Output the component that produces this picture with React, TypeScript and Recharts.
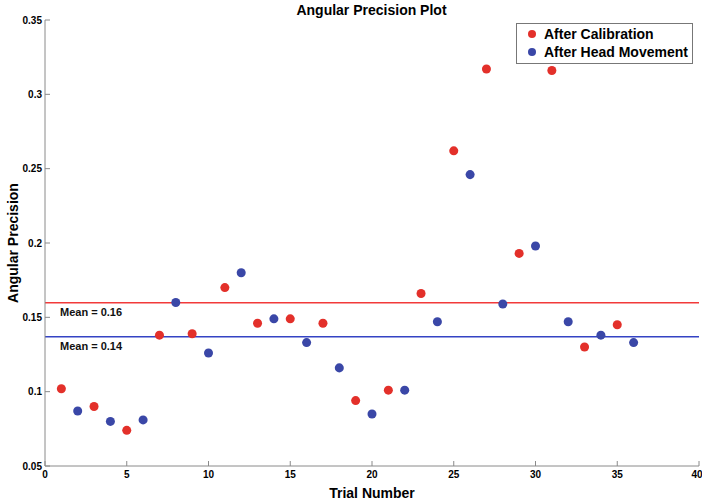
import React from 'react';
import {
  ScatterChart,
  Scatter,
  XAxis,
  YAxis,
  ReferenceLine,
} from 'recharts';

// trial numbers and precision readings
const calibTrials = [1, 3, 5, 7, 9, 11, 13, 15, 17, 19, 21, 23, 25, 27, 29, 31, 33, 35];
const calibValues = [0.102, 0.09, 0.074, 0.138, 0.139, 0.17, 0.146, 0.149, 0.146, 0.094, 0.101, 0.166, 0.262, 0.317, 0.193, 0.316, 0.13, 0.145];

const headTrials = [2, 4, 6, 8, 10, 12, 14, 16, 18, 20, 22, 24, 26, 28, 30, 32, 34, 36];
const headValues = [0.087, 0.08, 0.081, 0.16, 0.126, 0.18, 0.149, 0.133, 0.116, 0.085, 0.101, 0.147, 0.246, 0.159, 0.198, 0.147, 0.138, 0.133];

const xTicks = [0, 5, 10, 15, 20, 25, 30, 35, 40];
const yTicks = [0.05, 0.1, 0.15, 0.2, 0.25, 0.3, 0.35];

const RED = '#e3302a';
const BLUE = '#3a47a7';
const FONT = '"Liberation Sans", Arial, Helvetica, sans-serif';

const calibData = calibTrials.map((x, i) => ({ x, y: calibValues[i] }));
const headData = headTrials.map((x, i) => ({ x, y: headValues[i] }));

const mean = (arr: number[]) => arr.reduce((a, b) => a + b, 0) / arr.length;
const calibMean = mean(calibValues);
const headMean = mean(headValues);

const tickStyle = { fill: '#000', fontSize: 10, fontWeight: 'bold' as const, fontFamily: FONT };
const axisLine = { stroke: '#8a8a8a' };

const legendItems = [
  { label: 'After Calibration', color: RED },
  { label: 'After Head Movement', color: BLUE },
];

function MeanLabel({ viewBox, text }: any) {
  return (
    <text
      x={viewBox.x + 15}
      y={viewBox.y + 13}
      fontSize={11}
      fontWeight="bold"
      fontFamily={FONT}
      fill="#111"
    >
      {text}
    </text>
  );
}

function LegendBox() {
  return (
    <div
      style={{
        position: 'absolute',
        left: 516,
        top: 23,
        width: 175,
        border: '1px solid #777',
        background: '#fff',
        padding: '1px 0 2px 0',
        fontFamily: FONT,
        fontSize: 14,
        fontWeight: 'bold',
      }}
    >
      {legendItems.map((it) => (
        <div key={it.label} style={{ display: 'flex', alignItems: 'center', height: 18 }}>
          <span
            style={{
              width: 8,
              height: 8,
              borderRadius: 4,
              background: it.color,
              marginLeft: 11,
              marginRight: 8,
            }}
          />
          <span>{it.label}</span>
        </div>
      ))}
    </div>
  );
}

export default function App() {
  return (
    <div style={{ position: 'absolute', left: 0, top: 0, width: 702, height: 503, background: '#fff' }}>
      <div
        style={{
          position: 'absolute',
          left: 45,
          width: 653,
          top: 2,
          textAlign: 'center',
          fontFamily: FONT,
          fontSize: 14,
          fontWeight: 'bold',
          lineHeight: '16px',
        }}
      >
        Angular Precision Plot
      </div>
      <ScatterChart width={702} height={503} margin={{ top: 20, right: 3, bottom: 0, left: 0 }}>
        <XAxis
          type="number"
          dataKey="x"
          domain={[0, 40]}
          ticks={xTicks}
          height={37}
          tick={tickStyle}
          tickSize={-5}
          tickMargin={10}
          tickLine={axisLine}
          axisLine={axisLine}
          label={({ viewBox }: any) => (
            <text
              x={viewBox.x + viewBox.width / 2}
              y={viewBox.y + 32}
              textAnchor="middle"
              fontSize={14}
              fontWeight="bold"
              fontFamily={FONT}
            >
              Trial Number
            </text>
          )}
        />
        <XAxis
          xAxisId="top"
          orientation="top"
          type="number"
          domain={[0, 40]}
          ticks={xTicks}
          height={0}
          tickFormatter={() => ''}
          tickSize={-5}
          tickLine={axisLine}
          axisLine={axisLine}
        />
        <YAxis
          type="number"
          dataKey="y"
          domain={[0.05, 0.35]}
          ticks={yTicks}
          width={45}
          tick={tickStyle}
          tickSize={-5}
          tickMargin={8}
          tickLine={axisLine}
          axisLine={axisLine}
          label={({ viewBox }: any) => {
            const cx = 18;
            const cy = viewBox.y + viewBox.height / 2;
            return (
              <text
                x={cx}
                y={cy}
                transform={`rotate(-90 ${cx} ${cy})`}
                textAnchor="middle"
                fontSize={14}
                fontWeight="bold"
                fontFamily={FONT}
              >
                Angular Precision
              </text>
            );
          }}
        />
        <YAxis
          yAxisId="right"
          orientation="right"
          type="number"
          domain={[0.05, 0.35]}
          ticks={yTicks}
          width={0}
          tickFormatter={() => ''}
          tickSize={-5}
          tickLine={axisLine}
          axisLine={axisLine}
        />
        <ReferenceLine
          y={calibMean}
          stroke="#f23a3a"
          strokeWidth={1.5}
          label={(p: any) => <MeanLabel {...p} text={`Mean = ${calibMean.toFixed(2)}`} />}
        />
        <ReferenceLine
          y={headMean}
          stroke="#3443c4"
          strokeWidth={1.5}
          label={(p: any) => <MeanLabel {...p} text={`Mean = ${headMean.toFixed(2)}`} />}
        />
        <Scatter name="After Calibration" data={calibData} fill={RED} isAnimationActive={false} />
        <Scatter name="After Head Movement" data={headData} fill={BLUE} isAnimationActive={false} />
      </ScatterChart>
      <LegendBox />
    </div>
  );
}
